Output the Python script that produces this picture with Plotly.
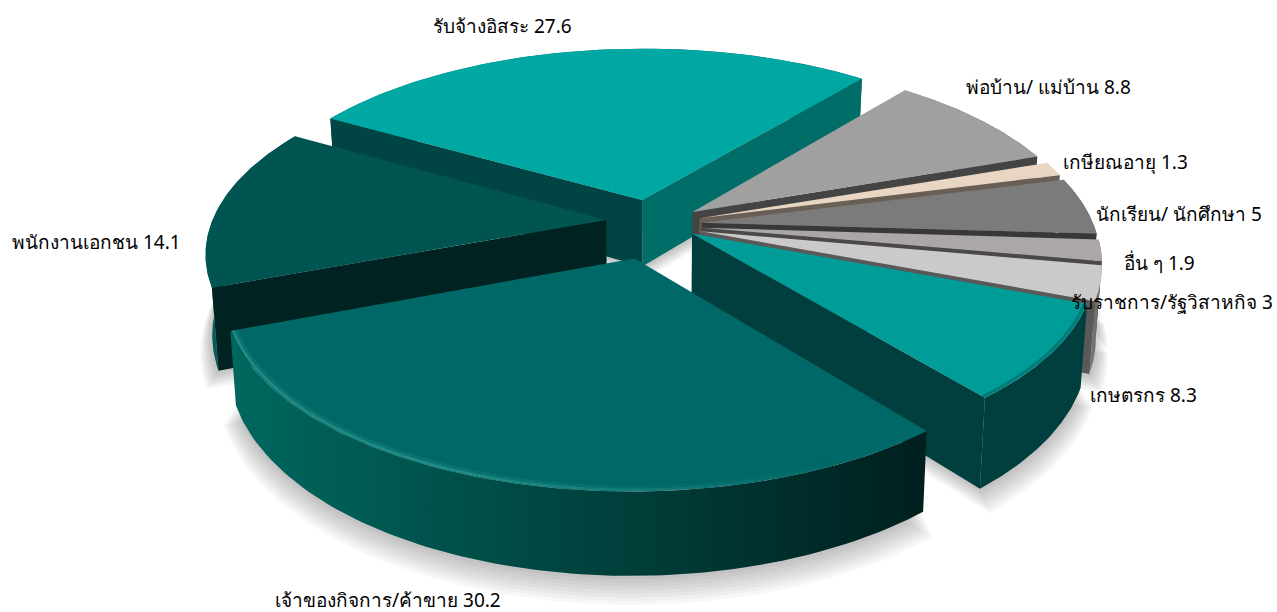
import math
import numpy as np
import plotly.graph_objects as go

# --- data, clockwise from the upper-left edge of the first slice
categories = ["รับจ้างอิสระ", "พ่อบ้าน/ แม่บ้าน", "เกษียณอายุ", "นักเรียน/ นักศึกษา", "อื่น ๆ",
              "รับราชการ/รัฐวิสาหกิจ", "เกษตรกร", "เจ้าของกิจการ/ค้าขาย", "พนักงานเอกชน"]
values = [27.6, 8.8, 1.3, 5, 1.9, 3, 8.3, 30.2, 14.1]

# --- explosion, size and colours per slice
pulls = [0.14, 0.125, 0.125, 0.125, 0.125, 0.125, 0.122, 0.163, 0.115]
radii = [1.0, 0.98, 0.98, 0.98, 0.98, 0.98, 0.975, 0.985, 0.985]
z_top = [0, 0, 0, 0, 0, 0, -0.07, 0.05, -0.05]
z_bot = [1, 1, 1, 1, 1, 1, 1.08, 1.05, 1.1]
top_colors = ["#00a8a3", "#a0a0a0", "#e9d6c2", "#7b7b7b", "#aaa7a6", "#cbc9ca", "#009c98", "#006866", "#005452"]
start_wall = ["#004543", "#6a6a6a", "#a09080", "#555555", "#666666", "#777777", "#005a57", "#003f3d", "#002221"]
end_wall = ["#006d68", "#444444", "#6a5f55", "#383838", "#4a4848", "#595959", "#003f3d", "#003f3d", "#002221"]
outer_left = ["#006d68", "#777777", "#a09080", "#666666", "#777777", "#7a7a7a", "#003f3d", "#00685f", "#00605c"]
outer_right = ["#006d68", "#666666", "#8a7a6a", "#555555", "#666666", "#666666", "#003f3d", "#001f1e", "#003a38"]
label_pos = [(502, 26), (1048, 87), (1125, 162), (1179, 214), (1159, 263),
             (1172, 302), (1143, 395), (388, 600), (96, 242)]
draw_order = [0, 1, 2, 3, 4, 5, 6, 8, 7]

# --- projection of the tilted disc onto the page
CX, CY, A, B, P, H, Q = 652.0, 225.0, 400.0, 185.0, 0.17, 68.0, 0.013
START_DEG = 150.0


def project(X, Y, z=0.0):
    X, Y = np.asarray(X, float), np.asarray(Y, float)
    w = 1 + P * Y
    sx = A * X / w
    sy = -B * Y / w + z * H / w
    return CX + sx * (1 - Q * z), CY + sy


total = sum(values)
edges = [START_DEG]
for v in values:
    edges.append(edges[-1] - v / total * 360)

fig = go.Figure()


def poly(xs, ys, color=None, gradient=None):
    kw = dict(x=list(xs), y=list(ys), mode="lines", fill="toself", line=dict(width=0),
              hoverinfo="skip", showlegend=False)
    if gradient:
        kw["fillgradient"] = dict(type="horizontal", colorscale=[[0, gradient[0]], [1, gradient[1]]])
    else:
        kw["fillcolor"] = color
    fig.add_trace(go.Scatter(**kw))


def geometry(i, extra=0.0):
    a0, a1 = math.radians(edges[i]), math.radians(edges[i + 1])
    mid = (a0 + a1) / 2
    ox, oy = pulls[i] * math.cos(mid), pulls[i] * math.sin(mid)
    t = np.linspace(a0, a1, 90)
    r = radii[i] + extra
    return ox, oy, ox + r * np.cos(t), oy + r * np.sin(t)


# soft shadow
for k in range(1, 9):
    for i in draw_order:
        ox, oy, ax, ay = geometry(i, 0.004 * k)
        x1, y1 = project(np.r_[ox, ax], np.r_[oy, ay], z_bot[i] + 0.028 * k)
        poly(x1, y1, "rgba(0,0,0,0.03)")

# slices, back to front
for i in draw_order:
    ox, oy, ax, ay = geometry(i)
    tx0, ty0 = project(ox, oy, z_top[i])
    tx1, ty1 = project(ox, oy, z_bot[i])
    x0, y0 = project(ax, ay, z_top[i])
    x1, y1 = project(ax, ay, z_bot[i])
    # outer wall
    poly(np.r_[x0, x1[::-1]], np.r_[y0, y1[::-1]], gradient=(outer_left[i], outer_right[i]))
    # radial walls that face the viewer
    if math.cos(math.radians(edges[i])) < 0:
        poly([tx0, x0[0], x1[0], tx1], [ty0, y0[0], y1[0], ty1], start_wall[i])
    if math.cos(math.radians(edges[i + 1])) > 0:
        poly([tx0, x0[-1], x1[-1], tx1], [ty0, y0[-1], y1[-1], ty1], end_wall[i])
    # top face
    poly(np.r_[tx0, x0], np.r_[ty0, y0], top_colors[i])


def rim(i, rgb, lo, hi, peak, width, inset=0.006):
    """Soft bevel line along the outer rim of a slice."""
    ox, oy, ax, ay = geometry(i, -inset)
    bx, by = project(ax, ay, z_top[i])
    n = len(bx)
    for j in range(n - 1):
        frac = j / (n - 1)
        alpha = peak * max(0.0, min(1.0, (frac - lo) / (hi - lo)))
        fig.add_trace(go.Scatter(x=bx[j:j + 2].tolist(), y=by[j:j + 2].tolist(), mode="lines",
                                 line=dict(width=width, color=f"rgba({rgb},{alpha:.2f})"),
                                 hoverinfo="skip", showlegend=False))


rim(7, "60,170,160", 0.1, 0.55, 0.18, 6, inset=0.01)
rim(7, "60,170,160", 0.1, 0.55, 0.45, 2.5)
rim(6, "0,50,48", 0.0, 0.01, 0.3, 3)

# labels
for name, val, (lx, ly) in zip(categories, values, label_pos):
    fig.add_annotation(x=lx, y=ly, xref="x", yref="y", text=f"{name} {val}", showarrow=False,
                       xanchor="center", yanchor="middle",
                       font=dict(family="Noto Sans, Tahoma, DejaVu Sans, sans-serif", size=19, color="#000000"))

fig.update_layout(width=1277, height=612, margin=dict(l=0, r=0, t=0, b=0),
                  paper_bgcolor="white", plot_bgcolor="white", showlegend=False,
                  xaxis=dict(range=[0, 1277], visible=False, fixedrange=True),
                  yaxis=dict(range=[612, 0], visible=False, fixedrange=True))
fig.write_html("out.html", config={"displayModeBar": False},
               post_script="document.body.style.margin='0';document.body.style.overflow='hidden';")
